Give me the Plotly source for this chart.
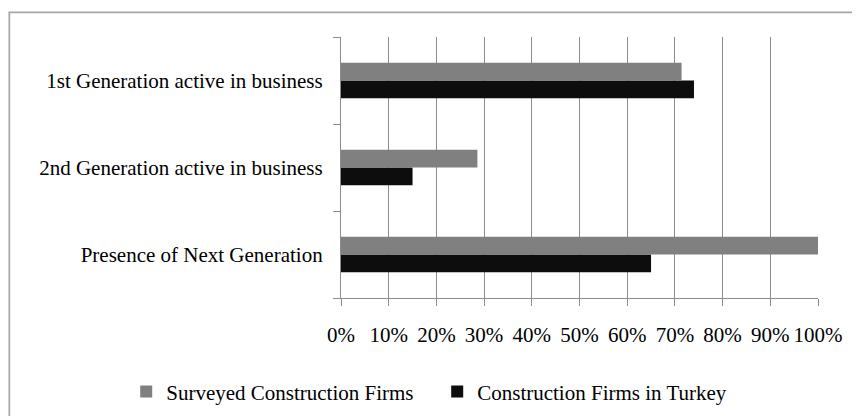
import plotly.graph_objects as go

categories = ["Presence of Next Generation",
              "2nd Generation active in business",
              "1st Generation active in business"]
surveyed = [1.00, 0.286, 0.714]
turkey = [0.65, 0.15, 0.74]
series_names = ["Surveyed Construction Firms", "Construction Firms in Turkey"]
x_ticks = [0, 0.1, 0.2, 0.3, 0.4, 0.5, 0.6, 0.7, 0.8, 0.9, 1.0]

FONT = "Liberation Serif, Times New Roman, serif"

fig = go.Figure()
fig.add_trace(go.Bar(y=categories, x=turkey, orientation="h", name=series_names[1],
                     marker=dict(color="#0d0d0d", line=dict(width=0)), legendrank=2))
fig.add_trace(go.Bar(y=categories, x=surveyed, orientation="h", name=series_names[0],
                     marker=dict(color="#808080", line=dict(width=0)), legendrank=1))

fig.update_layout(
    width=852, height=408,
    margin=dict(l=333, r=41.5, t=29, b=118, autoexpand=False),
    paper_bgcolor="white", plot_bgcolor="white",
    font=dict(family=FONT, size=21, color="black"),
    barmode="group", bargap=0.59, bargroupgap=0,
    showlegend=True,
    legend=dict(orientation="h", x=-0.4503, xanchor="left", y=-0.36, yanchor="middle",
                font=dict(family=FONT, size=21, color="black"),
                itemwidth=30, tracegroupgap=0, entrywidth=266,
                bgcolor="rgba(0,0,0,0)"),
    xaxis=dict(range=[0, 1], tickvals=x_ticks, tickformat=".0%",
               showgrid=True, gridcolor="#8c8c8c", gridwidth=1.3,
               ticks="outside", ticklen=7, tickcolor="#8c8c8c", tickwidth=1.3,
               showline=True, linecolor="#8c8c8c", linewidth=1.3,
               zeroline=False, ticklabelstandoff=11, automargin=False, fixedrange=True),
    yaxis=dict(type="category", categoryorder="array", categoryarray=categories,
               showgrid=False, ticks="outside", ticklen=7, tickson="boundaries",
               tickcolor="#8c8c8c", tickwidth=1.3,
               showline=True, linecolor="#8c8c8c", linewidth=1.3,
               zeroline=False, ticklabelstandoff=13, automargin=False, fixedrange=True),
    shapes=[dict(type="rect", xref="paper", yref="paper",
                 x0=-0.6953, x1=2, y0=-2, y1=1.0939,
                 line=dict(color="#a6a6a6", width=1.75), fillcolor="rgba(0,0,0,0)",
                 layer="below")],
)

fig.write_html("out.html")
